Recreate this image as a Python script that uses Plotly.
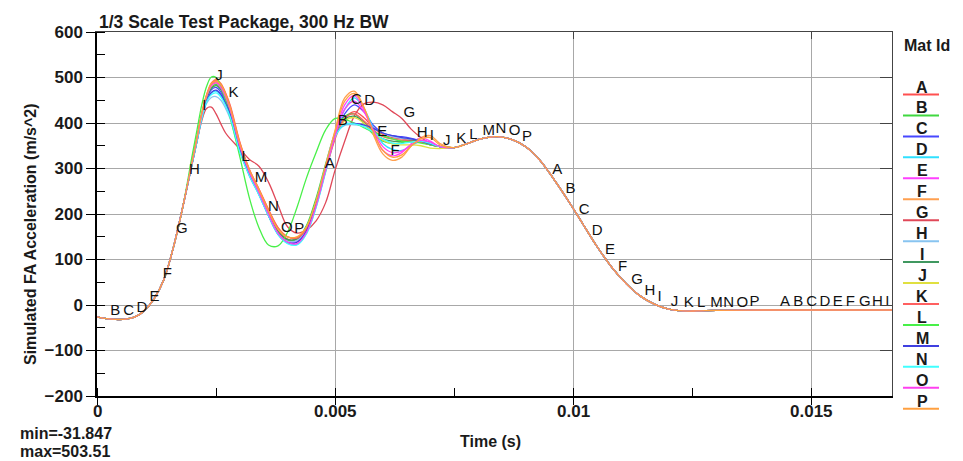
import numpy as np
import plotly.graph_objects as go

# ---------------- data ----------------
mat_ids = list("ABCDEFGHIJKLMNOP")
colors = ["#ff5050", "#40d840", "#4848ff", "#30e0ff", "#ff40ff", "#ffa050",
          "#e04858", "#88c4f0", "#409860", "#e0e040", "#ff6060", "#48f048",
          "#4040e0", "#40ffff", "#ff40f0", "#ffa040"]

# shared rise (all curves coincide)
t_rise = [0.0, 0.0002, 0.0004, 0.0006, 0.0008, 0.0010, 0.0012, 0.0014, 0.0016, 0.0018]
y_rise = [-26, -30, -31.8, -31, -26, -12, 14, 55, 125, 215]

# region where the curves differ
t_mid = [0.0020, 0.0021, 0.0022, 0.0023, 0.0024, 0.0025, 0.0026, 0.0027, 0.0028,
         0.0030, 0.0032, 0.0034, 0.0036, 0.0038, 0.0040, 0.0042, 0.0044, 0.0046, 0.0048,
         0.0050, 0.0052, 0.0054, 0.0056, 0.0058, 0.0060, 0.0062, 0.0064, 0.0066, 0.0068,
         0.0070, 0.0072]

mid_A = [315, 365, 418, 458, 483, 490, 478, 455, 425, 345, 290, 250, 205, 165, 145, 143, 168, 225, 300, 370, 410, 425, 412, 390, 375, 368, 365, 362, 358, 352, 348]
mid_B = [318, 368, 420, 457, 478, 485, 475, 452, 422, 342, 287, 245, 200, 160, 142, 145, 175, 235, 310, 378, 415, 420, 400, 375, 360, 355, 357, 360, 358, 352, 348]
mid_C = [313, 362, 414, 452, 473, 478, 468, 447, 420, 342, 288, 245, 198, 158, 138, 140, 165, 222, 298, 372, 420, 440, 425, 395, 378, 372, 370, 366, 360, 353, 348]
mid_D = [312, 360, 410, 447, 466, 470, 460, 440, 414, 338, 285, 243, 196, 155, 136, 133, 158, 215, 292, 370, 430, 455, 432, 390, 355, 342, 340, 350, 360, 356, 348]
mid_E = [316, 367, 420, 460, 485, 492, 482, 460, 430, 350, 292, 248, 200, 160, 140, 141, 165, 222, 300, 375, 440, 460, 430, 380, 340, 328, 335, 355, 368, 360, 348]
mid_F = [316, 368, 422, 462, 488, 496, 487, 465, 435, 356, 298, 255, 210, 170, 150, 148, 170, 225, 305, 385, 455, 470, 435, 375, 332, 318, 325, 350, 368, 372, 355]
mid_G = [312, 360, 405, 432, 435, 420, 398, 378, 365, 343, 320, 305, 270, 220, 172, 158, 165, 185, 225, 297, 360, 415, 442, 446, 440, 425, 410, 386, 368, 355, 348]
mid_H = [312, 360, 410, 443, 456, 458, 450, 432, 408, 336, 283, 242, 196, 157, 140, 142, 168, 228, 305, 375, 395, 396, 394, 388, 378, 370, 366, 364, 360, 354, 348]
mid_I = [315, 366, 418, 455, 476, 482, 473, 452, 424, 345, 290, 248, 202, 162, 144, 146, 170, 228, 303, 372, 408, 415, 402, 380, 365, 360, 360, 362, 360, 353, 348]
mid_J = [315, 366, 420, 458, 481, 488, 478, 457, 428, 350, 295, 252, 207, 167, 150, 149, 172, 228, 302, 370, 405, 412, 400, 378, 362, 354, 352, 352, 350, 345, 344]
mid_K = [314, 366, 420, 460, 486, 494, 486, 466, 438, 358, 298, 255, 210, 170, 150, 147, 168, 220, 295, 365, 410, 420, 405, 385, 370, 365, 362, 360, 358, 352, 348]
mid_L = [330, 385, 440, 480, 501, 500, 480, 448, 410, 325, 235, 170, 132, 130, 160, 215, 280, 335, 385, 410, 408, 400, 390, 380, 372, 365, 360, 358, 356, 352, 348]
mid_M = [312, 361, 412, 448, 467, 472, 463, 443, 417, 340, 286, 244, 197, 156, 137, 138, 163, 222, 300, 372, 397, 399, 396, 388, 378, 372, 368, 365, 360, 354, 348]
mid_N = [312, 360, 410, 446, 462, 466, 457, 438, 412, 336, 284, 242, 196, 155, 135, 132, 157, 215, 295, 370, 397, 398, 392, 380, 365, 356, 355, 358, 360, 355, 348]
mid_O = [315, 366, 419, 458, 482, 488, 478, 457, 428, 348, 291, 247, 200, 158, 138, 135, 160, 218, 297, 372, 430, 448, 425, 385, 348, 335, 338, 352, 362, 358, 348]
mid_P = [316, 367, 421, 461, 486, 492, 484, 462, 433, 354, 296, 253, 207, 167, 149, 150, 172, 228, 307, 382, 448, 465, 435, 380, 340, 325, 330, 350, 365, 368, 352]

# shared tail (all curves coincide)
t_tail = [0.0075, 0.0078, 0.0081, 0.0084, 0.0087, 0.0090, 0.0093, 0.0096, 0.0099, 0.0102,
          0.0105, 0.0108, 0.0111, 0.0114, 0.0117, 0.0120, 0.0123, 0.0126, 0.0130, 0.0140,
          0.0150, 0.0160, 0.01669]
y_tail = [346, 356, 366, 370, 364, 348, 318, 275, 228, 178,
          128, 84, 48, 20, 2, -9, -13, -13, -12, -11,
          -11, -11, -11]

mids = [mid_A, mid_B, mid_C, mid_D, mid_E, mid_F, mid_G, mid_H,
        mid_I, mid_J, mid_K, mid_L, mid_M, mid_N, mid_O, mid_P]

x_tickvals = [0, 0.005, 0.01, 0.015]
x_ticktext = ["0", "0.005", "0.01", "0.015"]
y_tickvals = [-200, -100, 0, 100, 200, 300, 400, 500, 600]

title_text = "1/3 Scale Test Package, 300 Hz BW"
x_title = "Time (s)"
y_title = "Simulated FA Acceleration (m/s^2)"
legend_title = "Mat Id"
min_text = "min=-31.847"
max_text = "max=503.51"

# curve-label placement (letters along each curve)
label_period = 0.00478
label_step = 0.000276
x_max = 0.01669

# ---------------- layout geometry ----------------
W, H = 963, 461
L, R, T, B = 97, 71, 32, 65
PW, PH = W - L - R, H - T - B
FONT = "Arial, 'Liberation Sans', sans-serif"


def px_x(px):
    return (px - L) / PW


def px_y(py):
    return (H - B - py) / PH


fig = go.Figure()
t_all = t_rise + t_mid + t_tail
curves = []
for k, mid in enumerate(mids):
    y_all = y_rise + mid + y_tail
    curves.append(y_all)
    fig.add_trace(go.Scatter(
        x=t_all, y=y_all, mode="lines", name=mat_ids[k],
        line=dict(color=colors[k], width=1.3, shape="spline", smoothing=1.0),
        hoverinfo="skip", showlegend=False))

# letters along the curves
lx, ly, lt = [], [], []
for k, y_all in enumerate(curves):
    for m in range(4):
        x = m * label_period + k * label_step
        if 0 < x < x_max:
            lx.append(x)
            ly.append(float(np.interp(x, t_all, y_all)))
            lt.append(mat_ids[k])
fig.add_trace(go.Scatter(
    x=lx, y=ly, text=lt, mode="text", textposition="top right",
    textfont=dict(family=FONT, size=15, color="#111111"),
    cliponaxis=True, hoverinfo="skip", showlegend=False))

# dummy trace for mirrored top/right axes
fig.add_trace(go.Scatter(x=[None], y=[None], xaxis="x2", yaxis="y2",
                         showlegend=False, hoverinfo="skip"))

bold17 = dict(family=FONT, size=17, color="#1a1a1a", weight="bold")

fig.update_layout(
    width=W, height=H,
    margin=dict(l=L, r=R, t=T, b=B),
    paper_bgcolor="white", plot_bgcolor="white",
    showlegend=False,
    font=dict(family=FONT, color="#1a1a1a"),
    xaxis=dict(range=[0, x_max], tickvals=x_tickvals, showticklabels=False,
               showgrid=True, gridcolor="#a8a8a8", gridwidth=1.3,
               ticks="outside", ticklen=7, tickcolor="black", tickwidth=1.3,
               showline=True, linecolor="black", linewidth=1.5, zeroline=False,
               minor=dict(dtick=0.0025, tick0=0, ticks="inside", ticklen=8,
                          tickcolor="black", tickwidth=1.2, showgrid=False)),
    yaxis=dict(range=[-200, 600], tickvals=y_tickvals,
               showgrid=True, gridcolor="#a8a8a8", gridwidth=1.3,
               ticks="outside", ticklen=9, tickcolor="black", tickwidth=1.3,
               showline=True, linecolor="black", linewidth=1.5, zeroline=False,
               tickfont=bold17,
               minor=dict(dtick=50, tick0=0, ticks="inside", ticklen=8,
                          tickcolor="black", tickwidth=1.2, showgrid=False)),
    xaxis2=dict(range=[0, x_max], overlaying="x", side="top", anchor="y",
                tickvals=x_tickvals, ticks="inside", ticklen=7, tickcolor="#444",
                showticklabels=False, showgrid=False, zeroline=False,
                showline=True, linecolor="#444", linewidth=1.3),
    yaxis2=dict(range=[-200, 600], overlaying="y", side="right", anchor="x",
                tickvals=y_tickvals, ticks="inside", ticklen=12, tickcolor="#444",
                showticklabels=False, showgrid=False, zeroline=False,
                showline=True, linecolor="#444", linewidth=1.3),
)

ann = []
for v, s in zip(x_tickvals, x_ticktext):
    ann.append(dict(text=s, x=v, y=px_y(411), xref="x", yref="paper",
                    xanchor="center", yanchor="middle", showarrow=False, font=bold17))
ann.append(dict(text=title_text, x=px_x(97), y=px_y(22), xref="paper", yref="paper",
                xanchor="left", yanchor="middle", showarrow=False,
                font=dict(family=FONT, size=17.5, color="#1a1a1a", weight="bold")))
ann.append(dict(text=y_title, x=px_x(30), y=px_y(234), xref="paper", yref="paper",
                xanchor="center", yanchor="middle", textangle=-90, showarrow=False,
                font=dict(family=FONT, size=16, color="#1a1a1a", weight="bold")))
ann.append(dict(text=x_title, x=px_x(490), y=px_y(441), xref="paper", yref="paper",
                xanchor="center", yanchor="middle", showarrow=False,
                font=dict(family=FONT, size=16, color="#1a1a1a", weight="bold")))
ann.append(dict(text=min_text, x=px_x(18), y=px_y(433), xref="paper", yref="paper",
                xanchor="left", yanchor="middle", showarrow=False,
                font=dict(family=FONT, size=16, color="#1a1a1a", weight="bold")))
ann.append(dict(text=max_text, x=px_x(18), y=px_y(452), xref="paper", yref="paper",
                xanchor="left", yanchor="middle", showarrow=False,
                font=dict(family=FONT, size=16, color="#1a1a1a", weight="bold")))
ann.append(dict(text=legend_title, x=px_x(927), y=px_y(46), xref="paper", yref="paper",
                xanchor="center", yanchor="middle", showarrow=False,
                font=dict(family=FONT, size=16, color="#1a1a1a", weight="bold")))

shapes = []
for k, mid_id in enumerate(mat_ids):
    ann.append(dict(text=mid_id, x=px_x(922), y=px_y(87 + 20.95 * k),
                    xref="paper", yref="paper", xanchor="center", yanchor="middle",
                    showarrow=False,
                    font=dict(family=FONT, size=16, color="#1a1a1a", weight="bold")))
    shapes.append(dict(type="line", xref="paper", yref="paper",
                       x0=px_x(903), x1=px_x(939),
                       y0=px_y(94.5 + 20.95 * k), y1=px_y(94.5 + 20.95 * k),
                       line=dict(color=colors[k], width=2)))

fig.update_layout(annotations=ann, shapes=shapes)
fig.write_html("out.html",
               config={"displayModeBar": False},
               post_script="document.body.style.margin='0';"
                           "document.body.style.overflow='hidden';")
